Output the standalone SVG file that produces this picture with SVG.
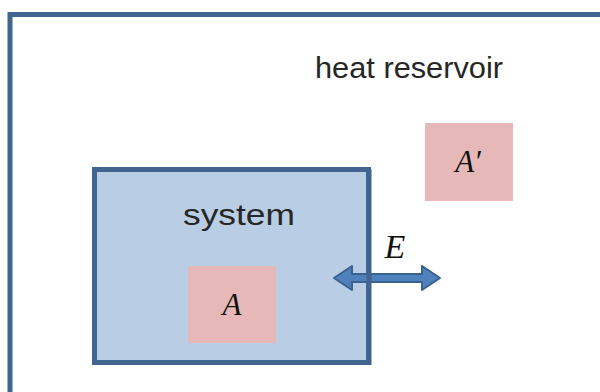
<svg xmlns="http://www.w3.org/2000/svg" width="600" height="392" viewBox="0 0 600 392">
<style>
.lbl{font-family:"Liberation Sans",Arial,sans-serif;font-size:30px;fill:#262626;}
.math{font-family:"Liberation Serif","DejaVu Serif",serif;font-style:italic;font-size:31px;fill:#111;text-anchor:middle;}
.sub{fill:#e6b9b8;}
</style>
<g id="reservoir">
<rect x="10" y="14.5" width="620" height="400" fill="#fff" stroke="#41658f" stroke-width="5"/>
<text class="lbl" x="315" y="78" textLength="188" lengthAdjust="spacingAndGlyphs">heat reservoir</text>
</g>
<g id="system">
<rect x="94.5" y="169.5" width="274" height="193" fill="#b9cde5" stroke="#41658f" stroke-width="5"/>
<text class="lbl" x="183" y="225" textLength="112" lengthAdjust="spacingAndGlyphs">system</text>
</g>
<g id="A">
<rect class="sub" x="188" y="266" width="88" height="77"/>
<text class="math" x="232" y="315">A</text>
</g>
<g id="Aprime">
<rect class="sub" x="425" y="123" width="88" height="78"/>
<text class="math" x="468" y="172">A′</text>
</g>
<g id="connectors">
<path d="M334,278 L352,266 L352,274 L422,274 L422,266 L440,278 L422,290 L422,282 L352,282 L352,290 Z" fill="#4f81bd" stroke="#3a6190" stroke-width="2" stroke-linejoin="round"/>
<line x1="369" y1="169" x2="369" y2="365" stroke="#41658f" stroke-width="5"/>
<text class="math" x="395" y="258" style="font-size:34px">E</text>
</g>
</svg>
